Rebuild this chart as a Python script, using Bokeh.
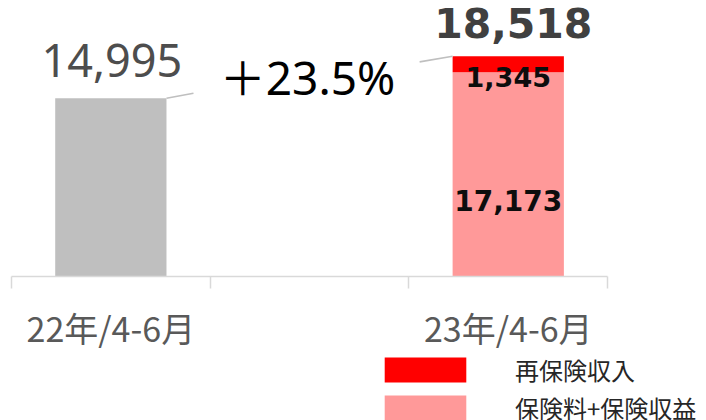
from bokeh.plotting import figure
from bokeh.models import Range1d, LinearAxis, FixedTicker, Legend, LegendItem
from bokeh.core.properties import value
from bokeh.embed import file_html
from bokeh.resources import INLINE

# ---- data ----
categories = ["22年/4-6月", "", "23年/4-6月"]
cat_x = [0.5, 1.5, 2.5]
total_2022 = [14995]
premium_2023 = [17173]        # 保険料+保険収益
reinsurance_2023 = [1345]     # 再保険収入
legend_labels = ["再保険収入", "保険料+保険収益"]

total_2023 = [premium_2023[0] + reinsurance_2023[0]]
growth = total_2023[0] / total_2022[0] - 1
growth_label = "＋{:.1f}%".format(growth * 100)

GRAY = "#bfbfbf"
PINK = "#ff9999"
RED = "#ff0000"
BAR_W = 0.56
W, H = 706, 420
PX_X = 198.7                      # px per x unit
X0 = 11                           # px of x=0
PX_Y = 178.3 / 14995              # px per y unit
BASE = 276                        # px of y=0 from top

p = figure(width=W, height=H, title=None,
           x_range=Range1d(-X0 / PX_X, (W - X0) / PX_X),
           y_range=Range1d(-(H - BASE) / PX_Y, BASE / PX_Y),
           output_backend="svg", toolbar_location=None,
           x_axis_location=None, y_axis_location=None,
           min_border=0, outline_line_color=None)
p.grid.visible = False
p.background_fill_color = "white"
p.border_fill_color = "white"

# bars
p.vbar(x=[cat_x[0]], top=total_2022, width=BAR_W, color=GRAY, line_color=None)
r_prem = p.vbar(x=[cat_x[2]], bottom=[0], top=premium_2023, width=BAR_W,
                fill_color=PINK, line_color=None)
r_rein = p.vbar(x=[cat_x[2]], bottom=premium_2023, top=total_2023, width=BAR_W,
                fill_color=RED, line_color=None)

# leader lines
x0a = cat_x[0] + BAR_W / 2
p.segment(x0=[x0a], y0=total_2022, x1=[x0a + 27 / PX_X],
          y1=[total_2022[0] + 5 / PX_Y], line_color=GRAY, line_width=1.6)
x0b = cat_x[2] - BAR_W / 2
p.segment(x0=[x0b], y0=total_2023, x1=[x0b - 33 / PX_X],
          y1=[total_2023[0] - 5.6 / PX_Y], line_color=GRAY, line_width=1.6)

# labels
p.text(x=[cat_x[0]], y=total_2022, text=["{:,}".format(total_2022[0])],
       text_font=value("Noto Sans"), text_font_size="45px", text_color="#4d4d4d",
       text_align="center", text_baseline="middle", y_offset=-38, x_offset=1)
p.text(x=[cat_x[1]], y=total_2022, text=[growth_label],
       text_font=value("Noto Sans, Noto Sans CJK JP"), text_font_size="46px",
       text_color="#000000", text_align="center", text_baseline="middle",
       y_offset=-21, x_offset=-2)
p.text(x=[cat_x[2]], y=total_2023, text=["{:,}".format(total_2023[0])],
       text_font=value("DejaVu Sans"), text_font_style="bold", text_font_size="41px",
       text_color="#404040", text_align="center", text_baseline="middle",
       y_offset=-33, x_offset=5)
p.text(x=[cat_x[2]], y=total_2023, text=["{:,}".format(reinsurance_2023[0])],
       text_font=value("DejaVu Sans"), text_font_style="bold", text_font_size="27px",
       text_color="#0d0d0d", text_align="center", text_baseline="middle",
       y_offset=21)
p.text(x=[cat_x[2]], y=[0], text=["{:,}".format(premium_2023[0])],
       text_font=value("DejaVu Sans"), text_font_style="bold", text_font_size="28px",
       text_color="#0d0d0d", text_align="center", text_baseline="middle",
       y_offset=-76)

# x axis at y=0 with boundary ticks
ax = LinearAxis(ticker=FixedTicker(ticks=[cat_x[0], cat_x[2]], minor_ticks=[0, 1, 2, 3]),
                bounds=(0, 3), fixed_location=0)
ax.major_label_overrides = {cat_x[0]: categories[0], cat_x[2]: categories[2]}
ax.axis_line_color = "#d9d9d9"
ax.axis_line_width = 1.5
ax.major_tick_line_color = None
ax.major_tick_out = 0
ax.major_tick_in = 0
ax.minor_tick_line_color = "#d9d9d9"
ax.minor_tick_line_width = 1.5
ax.minor_tick_out = 12
ax.minor_tick_in = 0
ax.major_label_standoff = 14
ax.major_label_text_font = "Noto Sans CJK JP"
ax.major_label_text_font_size = "34px"
ax.major_label_text_color = "#595959"
p.add_layout(ax, "below")

legend = Legend(items=[LegendItem(label=legend_labels[0], renderers=[r_rein]),
                       LegendItem(label=legend_labels[1], renderers=[r_prem])],
                location=(374, -5), padding=0, margin=0, spacing=3,
                glyph_width=102, glyph_height=31, label_standoff=39,
                label_text_font="Noto Sans CJK JP", label_text_font_size="24px",
                label_text_color="#262626", border_line_color=None,
                background_fill_alpha=0)
p.add_layout(legend, "center")

open("out.html", "w").write(file_html(p, INLINE))
